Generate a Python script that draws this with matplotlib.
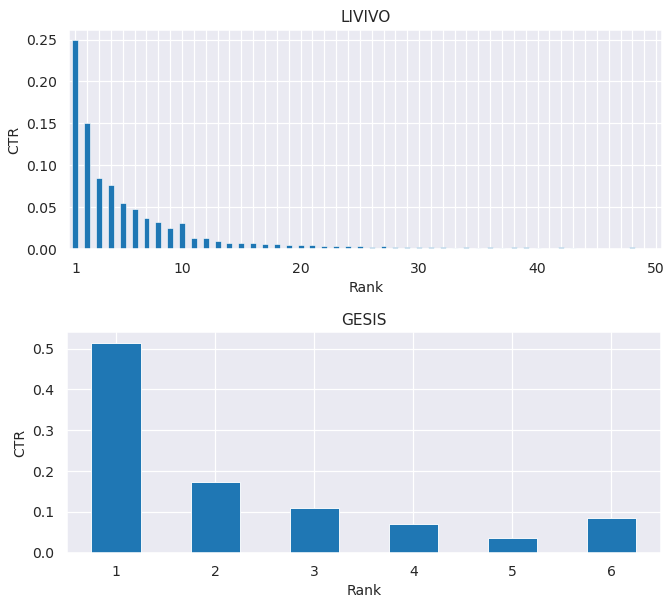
import matplotlib
matplotlib.use("Agg")
import matplotlib.pyplot as plt
import seaborn as sns
import numpy as np

# click-through rate per rank
livivo_ctr = [0.249, 0.150, 0.085, 0.077, 0.055, 0.048, 0.037, 0.033, 0.025, 0.032,
              0.013, 0.014, 0.0095, 0.007, 0.008, 0.0075, 0.006, 0.0065, 0.005, 0.005,
              0.0055, 0.0042, 0.0044, 0.0042, 0.004, 0.0032, 0.004, 0.003, 0.0032, 0.003,
              0.0032, 0.0024, 0.002, 0.0026, 0.0018, 0.0024, 0.0018, 0.0024, 0.0024, 0.0018,
              0.0008, 0.0024, 0.0015, 0.001, 0.0005, 0.0005, 0.0005, 0.0024, 0.0005, 0.0005]
livivo_ranks = list(range(1, 51))
livivo_shown = [1, 10, 20, 30, 40, 50]

gesis_ctr = [0.514, 0.174, 0.110, 0.071, 0.037, 0.085]
gesis_ranks = [1, 2, 3, 4, 5, 6]

sns.set_theme(style="darkgrid")
plt.rcParams["axes.labelsize"] = 11
bar_color = "#1f77b4"

fig = plt.figure(figsize=(668 / 92, 598 / 92), dpi=92)
ax1 = fig.add_axes([0.104, 0.583, 0.887, 0.367])
ax2 = fig.add_axes([0.0999, 0.0758, 0.8896, 0.3685])


def rank_bars(ax, ranks, ctr, title, shown=None, lw=0.7):
    pos = np.arange(len(ranks))
    ax.bar(pos, ctr, width=0.5, color=bar_color, edgecolor="white", linewidth=lw)
    ax.set_xlim(-0.5, len(ranks) - 0.5)
    ax.set_xticks(pos)
    if shown is None:
        labels = [str(r) for r in ranks]
    else:
        labels = [str(r) if r in shown else "" for r in ranks]
    ax.set_xticklabels(labels, rotation=0)
    ax.set_xlabel("Rank")
    ax.set_ylabel("CTR")
    ax.set_title(title)


rank_bars(ax1, livivo_ranks, livivo_ctr, "LIVIVO", livivo_shown, lw=0.45)
rank_bars(ax2, gesis_ranks, gesis_ctr, "GESIS")

fig.savefig("out.png", dpi=92)
